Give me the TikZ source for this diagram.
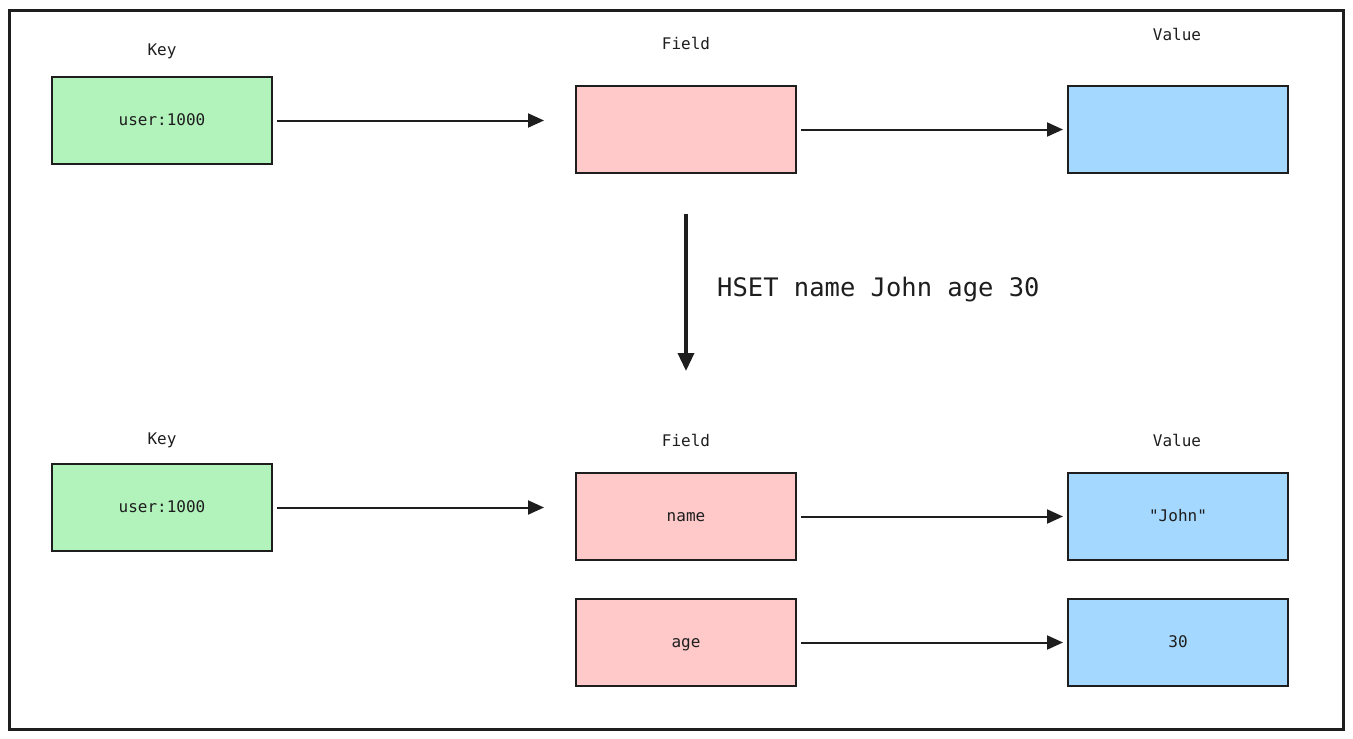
\documentclass[tikz,border=0pt]{standalone}
\usepackage{fontspec}
\setmonofont{DejaVu Sans Mono}
\usetikzlibrary{arrows.meta}
\definecolor{keyfill}{HTML}{B2F2BB}
\definecolor{fieldfill}{HTML}{FFC9C9}
\definecolor{valfill}{HTML}{A5D8FF}
\definecolor{ink}{HTML}{1E1E1E}
\tikzset{
  box/.style={draw=ink, line width=2pt, minimum width=220pt, minimum height=87pt, inner sep=0pt, text height=12pt, text depth=2pt, font=\ttfamily\fontsize{16}{19}\selectfont, text=ink},
  keybox/.style={box, fill=keyfill},
  fieldbox/.style={box, fill=fieldfill},
  valbox/.style={box, fill=valfill},
  lbl/.style={font=\ttfamily\fontsize{16}{19}\selectfont, text=ink, inner sep=0pt},
  conn/.style={draw=ink, line width=2pt, -{Triangle[length=16pt,width=14pt]}},
  bigconn/.style={draw=ink, line width=3.5pt, -{Triangle[length=18pt,width=16pt]}}
}
\begin{document}
\begin{tikzpicture}[x=1pt,y=-1pt]
\useasboundingbox (0,0) rectangle (1353,739);
\fill[white] (0,0) rectangle (1353,739);
\draw[ink, line width=3pt] (9.5,10) rectangle (1343,729.5);

% top row
\node[lbl] (keyl1) at (162,51) {Key};
\node[lbl] (fieldl1) at (686,43) {Field};
\node[lbl] (vall1) at (1177,34) {Value};
\node[keybox] (k1) at (162,120.5) {user:1000};
\node[fieldbox] (f1) at (686,129.5) {};
\node[valbox] (v1) at (1178,129.5) {};
\draw[conn, shorten <=4pt, shorten >=31pt] (k1.east) -- (k1.east -| f1.west);
\draw[conn, shorten <=4pt, shorten >=4pt] (f1.east) -- (v1.west);

% transition
\coordinate (arrend) at (686,371);
\draw[bigconn, shorten <=40pt] (f1.south) -- (arrend);
\node[anchor=west, inner sep=0pt, font=\ttfamily\fontsize{25.5}{30}\selectfont, text=ink] (cmd) at (717,290) {HSET name John age 30};

% bottom rows
\node[lbl] (keyl2) at (162,440) {Key};
\node[lbl] (fieldl2) at (686,440) {Field};
\node[lbl] (vall2) at (1177,440) {Value};
\node[keybox] (k2) at (162,507.5) {user:1000};
\node[fieldbox] (f2) at (686,516.5) {name};
\node[valbox] (v2) at (1178,516.5) {"John"};
\node[fieldbox] (f3) at (686,642.5) {age};
\node[valbox] (v3) at (1178,642.5) {30};
\draw[conn, shorten <=4pt, shorten >=31pt] (k2.east) -- (k2.east -| f2.west);
\draw[conn, shorten <=4pt, shorten >=4pt] (f2.east) -- (v2.west);
\draw[conn, shorten <=4pt, shorten >=4pt] (f3.east) -- (v3.west);
\end{tikzpicture}
\end{document}
